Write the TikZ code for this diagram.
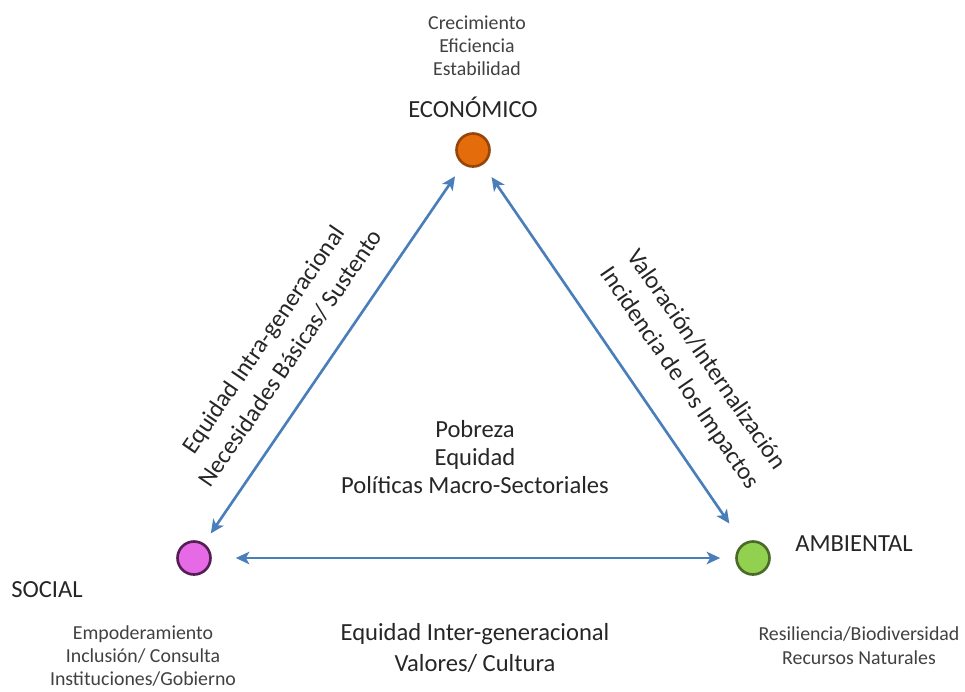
\documentclass[tikz,border=0pt]{standalone}
\usepackage{fontspec}
\setmainfont{Carlito}
\usetikzlibrary{arrows.meta}
\definecolor{linkblue}{RGB}{74,126,187}
\definecolor{ecofill}{RGB}{228,108,10}
\definecolor{ecodraw}{RGB}{150,70,10}
\definecolor{socfill}{RGB}{230,105,230}
\definecolor{socdraw}{RGB}{85,30,85}
\definecolor{ambfill}{RGB}{146,208,80}
\definecolor{ambdraw}{RGB}{75,105,40}
\definecolor{textgray}{RGB}{65,65,65}

\begin{document}
\begin{tikzpicture}[
    x=0.02cm, y=-0.02cm,
    pillar/.style={circle, draw, line width=1.5pt, minimum size=0.66cm, inner sep=0pt},
    pillarname/.style={font=\fontsize{14}{17}\selectfont, text=black!85},
    detail/.style={align=center, font=\fontsize{11.3}{13}\selectfont, text=textgray},
    relation/.style={align=center, font=\fontsize{14}{17.5}\selectfont, text=black!85, inner sep=0pt},
    link/.style={<->, >={Stealth[length=0.27cm, width=0.25cm, inset=0.07cm]}, line width=1.5pt, draw=linkblue}
]
    \useasboundingbox (0,0) rectangle (965,691);

    % Pillars
    \node[pillar, fill=ecofill, draw=ecodraw] (eco) at (473,150) {};
    \node[pillar, fill=socfill, draw=socdraw] (soc) at (194,558) {};
    \node[pillar, fill=ambfill, draw=ambdraw] (amb) at (753,558) {};

    % Names
    \node[pillarname] (econame) at (473,107) {ECONÓMICO};
    \node[pillarname] (socname) at (47,590) {SOCIAL};
    \node[pillarname] (ambname) at (854,544) {AMBIENTAL};

    % Details
    \node[detail] (ecodet) at (477,46) {Crecimiento\\Eficiencia\\Estabilidad};
    \node[detail] (socdet) at (143,656) {Empoderamiento\\Inclusión/ Consulta\\Instituciones/Gobierno};
    \node[detail, font=\fontsize{11.3}{13.5}\selectfont] (ambdet) at (859,646) {Resiliencia/Biodiversidad\\Recursos Naturales};

    % Centre
    \node[relation, font=\fontsize{14}{16}\selectfont] (centre) at (475,457) {Pobreza\\Equidad\\Políticas Macro-Sectoriales};

    % Links
    \draw[link, shorten <=0.24cm, shorten >=0.28cm] (soc) -- node[relation, font=\fontsize{14}{18.5}\selectfont, sloped, above=0.46cm, pos=0.44] {Equidad Intra-generacional\\Necesidades Básicas/ Sustento} (eco);
    \draw[link, shorten <=0.3cm, shorten >=0.48cm] (eco) -- node[relation, font=\fontsize{14}{18.5}\selectfont, sloped, above=0.58cm, pos=0.61, xshift=4pt] {Valoración/Internalización\\Incidencia de los Impactos} (amb);
    \draw[link, shorten <=0.48cm, shorten >=0.3cm] (soc) -- (amb);
    \node[relation] (bottom) at (475,648) {Equidad Inter-generacional\\Valores/ Cultura};
\end{tikzpicture}
\end{document}
